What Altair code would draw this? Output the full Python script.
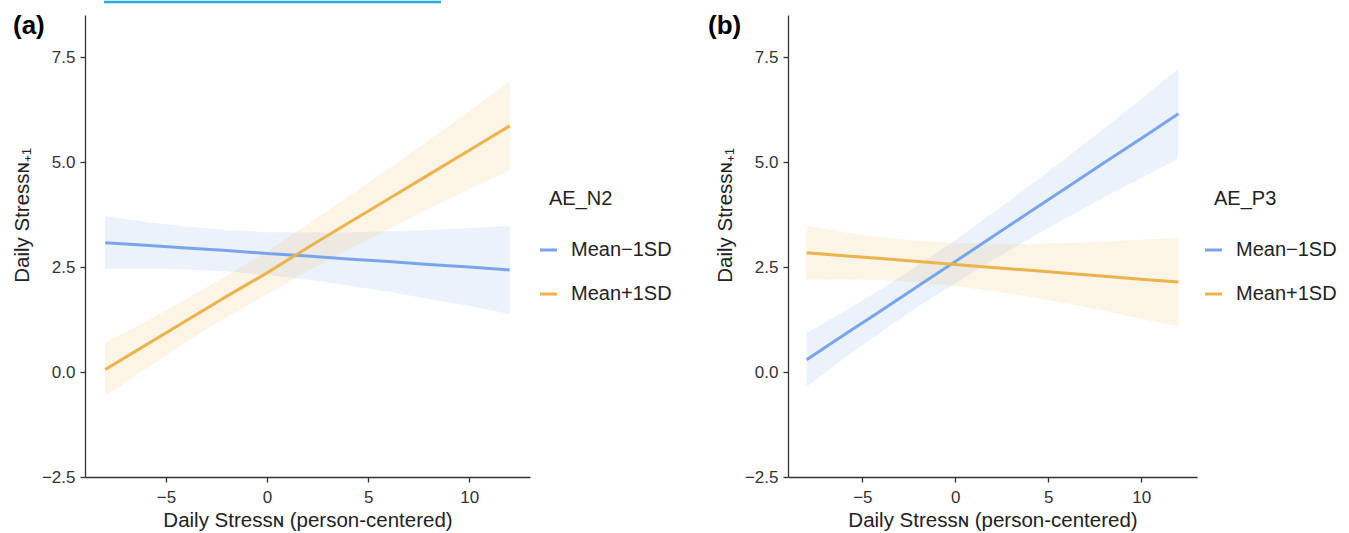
import altair as alt
import pandas as pd

# ---------------- data ----------------
x_vals = [-8, -6, -4, -2, 0, 2, 4, 6, 8, 10, 12]
groups = ["Mean−1SD", "Mean+1SD"]
x_ticks = [-5, 0, 5, 10]
y_ticks = [-2.5, 0.0, 2.5, 5.0, 7.5]

# Panel (a): moderator AE_N2
a_m1_fit = [3.08, 3.02, 2.95, 2.89, 2.82, 2.76, 2.69, 2.63, 2.56, 2.50, 2.43]
a_m1_low = [2.45, 2.46, 2.44, 2.40, 2.31, 2.20, 2.06, 1.91, 1.74, 1.57, 1.38]
a_m1_up = [3.71, 3.58, 3.46, 3.38, 3.33, 3.32, 3.32, 3.35, 3.38, 3.43, 3.48]
a_p1_fit = [0.06, 0.64, 1.22, 1.80, 2.36, 2.96, 3.54, 4.12, 4.70, 5.28, 5.86]
a_p1_low = [-0.57, 0.08, 0.71, 1.31, 1.85, 2.40, 2.91, 3.40, 3.88, 4.35, 4.81]
a_p1_up = [0.71, 1.20, 1.73, 2.29, 2.87, 3.52, 4.17, 4.84, 5.52, 6.21, 6.91]

# Panel (b): moderator AE_P3
b_m1_fit = [0.29, 0.88, 1.46, 2.05, 2.63, 3.22, 3.81, 4.39, 4.98, 5.56, 6.15]
b_m1_low = [-0.35, 0.32, 0.95, 1.56, 2.12, 2.66, 3.18, 3.67, 4.16, 4.62, 5.08]
b_m1_up = [0.93, 1.44, 1.97, 2.54, 3.14, 3.78, 4.44, 5.11, 5.80, 6.50, 7.22]
b_p1_fit = [2.84, 2.77, 2.70, 2.63, 2.56, 2.49, 2.42, 2.35, 2.28, 2.21, 2.14]
b_p1_low = [2.20, 2.21, 2.19, 2.14, 2.05, 1.93, 1.79, 1.63, 1.46, 1.27, 1.09]
b_p1_up = [3.48, 3.33, 3.21, 3.12, 3.07, 3.05, 3.05, 3.07, 3.10, 3.15, 3.19]

BLUE = "#78A5EA"
ORANGE = "#EBB34B"
COLORS = [BLUE, ORANGE]
TEXT = "#222222"
FONT = "Liberation Sans"


def make_df(fits, lows, ups):
    rows = []
    for g, f, lo, up in zip(groups, fits, lows, ups):
        for x, fv, lv, uv in zip(x_vals, f, lo, up):
            rows.append({"x": x, "fit": fv, "lower": lv, "upper": uv, "group": g, "band": g})
    return pd.DataFrame(rows)


def key_layers(title, lx):
    """Legend drawn beside the plot: title, colour keys and labels."""
    out = [
        alt.Chart(pd.DataFrame({"t": [title]})).mark_text(
            align="left", baseline="middle", fontSize=20, font=FONT, color=TEXT
        ).encode(text="t:N", x=alt.value(lx + 9), y=alt.value(184))
    ]
    for i, (g, c) in enumerate(zip(groups, COLORS)):
        yy = 235 + 44 * i
        out.append(
            alt.Chart(pd.DataFrame({"g": [g]})).mark_rule(color=c, strokeWidth=3).encode(
                x=alt.value(lx), x2=alt.value(lx + 17), y=alt.value(yy)
            )
        )
        out.append(
            alt.Chart(pd.DataFrame({"g": [g]})).mark_text(
                align="left", baseline="middle", fontSize=20, font=FONT, color=TEXT
            ).encode(text="g:N", x=alt.value(lx + 31), y=alt.value(yy))
        )
    return out


def panel(df, width, legend_title, legend_x, tag, tag_x, extra=None):
    xscale = alt.Scale(domain=[-9, 13], nice=False, zero=False)
    yscale = alt.Scale(domain=[-2.5, 8.5], nice=False, zero=False)
    xaxis = alt.Axis(
        values=x_ticks, format="d", title="Daily Stressɴ (person-centered)",
        labelPadding=7, titlePadding=5,
    )
    yaxis = alt.Axis(
        values=y_ticks, format=".1f", title="Daily Stressɴ₊₁",
        titleX=-53, titleY=200, titleAngle=270, titleAlign="center", titleBaseline="bottom",
    )
    cscale = alt.Scale(domain=groups, range=COLORS)

    band = alt.Chart(df).mark_area(fillOpacity=0.15, strokeWidth=0).encode(
        x=alt.X("x:Q", scale=xscale, axis=xaxis),
        y=alt.Y("lower:Q", scale=yscale, axis=yaxis),
        y2="upper:Q",
        fill=alt.Fill("band:N", scale=cscale, legend=None),
    )
    line = alt.Chart(df).mark_line(strokeWidth=3).encode(
        x=alt.X("x:Q", scale=xscale, axis=xaxis),
        y=alt.Y("fit:Q", scale=yscale, axis=yaxis),
        color=alt.Color("group:N", scale=cscale, legend=None),
    )
    tag_layer = alt.Chart(pd.DataFrame({"t": [tag]})).mark_text(
        align="left", baseline="top", fontSize=26, fontWeight="bold", font=FONT, color="#000000"
    ).encode(text="t:N", x=alt.value(tag_x), y=alt.value(-2))
    layers = [band, line, tag_layer] + key_layers(legend_title, legend_x)
    if extra is not None:
        layers.append(extra)
    return alt.layer(*layers).properties(width=width, height=462)


df_a = make_df([a_m1_fit, a_p1_fit], [a_m1_low, a_p1_low], [a_m1_up, a_p1_up])
df_b = make_df([b_m1_fit, b_p1_fit], [b_m1_low, b_p1_low], [b_m1_up, b_p1_up])

# thin cyan strip cut at the top of the original figure
strip = alt.Chart(pd.DataFrame({"k": [0]})).mark_rule(color="#2AA8E0", strokeWidth=2.5).encode(
    x=alt.value(19), x2=alt.value(356), y=alt.value(-13)
)

pa = panel(df_a, 445, "AE_N2", 455, "(a)", -72, extra=strip)
pb = panel(df_b, 409, "AE_P3", 417, "(b)", -80)

chart = (
    alt.hconcat(pa, pb, spacing=36)
    .resolve_scale(x="independent", y="independent", color="independent", fill="independent")
    .configure(font=FONT, padding={"left": 12, "top": 0, "right": 0, "bottom": 0})
    .configure_view(stroke=None)
    .configure_axis(
        grid=False,
        domainColor="#333333",
        domainWidth=1.3,
        tickColor="#333333",
        tickWidth=1.3,
        tickSize=5,
        labelFontSize=17,
        labelColor="#333333",
        labelPadding=5,
        titleFontSize=20.5,
        titleFontWeight="normal",
        titleColor=TEXT,
        labelFont=FONT,
        titleFont=FONT,
    )
)

chart.save("out.html", embed_options={"renderer": "svg", "actions": False})
